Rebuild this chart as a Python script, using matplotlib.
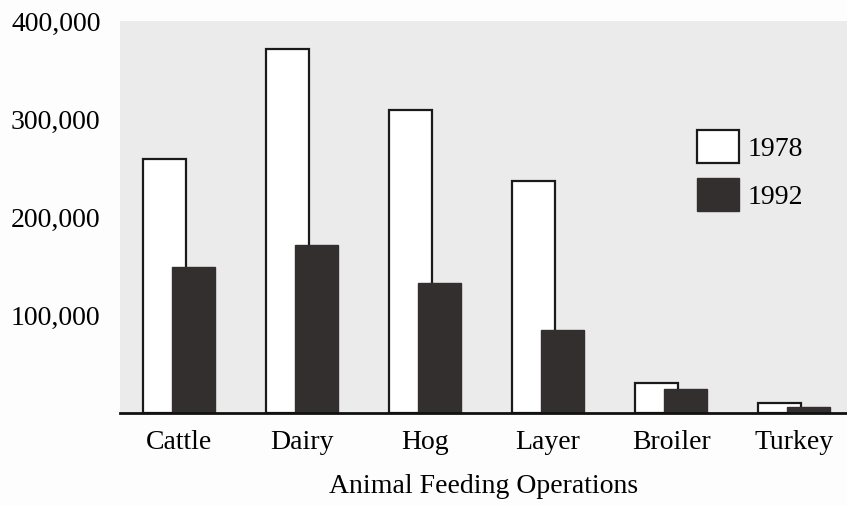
import matplotlib.pyplot as plt
import numpy as np

# feeding operations by type, counts
animals = ['Cattle', 'Dairy', 'Hog', 'Layer', 'Broiler', 'Turkey']
ops_1978 = [259000, 371000, 309000, 237000, 31000, 10000]
ops_1992 = [149000, 171000, 133000, 85000, 24000, 6000]
yticks = [100000, 200000, 300000, 400000]

plt.rcParams['font.family'] = ['Liberation Serif', 'DejaVu Serif']

fig = plt.figure(figsize=(8.47, 5.05), dpi=100)
ax = fig.add_axes([120 / 847, 92 / 505, 727 / 847, 392 / 505])
ax.set_facecolor('#ebebeb')

x = np.arange(len(animals))
w = 0.35
ax.bar(x - 0.118, ops_1978, w, color='white', edgecolor='#1a1a1a', linewidth=1.6,
       label='1978', zorder=2)
ax.bar(x + 0.118, ops_1992, w, color='#332f2f', edgecolor='#332f2f', linewidth=1,
       label='1992', zorder=3)

ax.set_xlim(-0.48, 5.43)
ax.set_ylim(0, 400000)
ax.set_yticks(yticks)
ax.set_yticklabels(['{:,}'.format(v) for v in yticks])
ax.set_xticks(x)
ax.set_xticklabels(animals)
ax.tick_params(axis='both', length=0, labelsize=20)
ax.tick_params(axis='y', pad=14)
ax.tick_params(axis='x', pad=12)
ax.set_xlabel('Animal Feeding Operations', fontsize=20, labelpad=14)

for s in ['top', 'right', 'left']:
    ax.spines[s].set_visible(False)
ax.spines['bottom'].set_linewidth(2)
ax.spines['bottom'].set_color('#111111')
ax.spines['bottom'].set_zorder(4)

ax.legend(loc='upper left', bbox_to_anchor=(697 / 847, 375 / 505),
          bbox_transform=fig.transFigure, frameon=False, fontsize=20,
          borderpad=0, borderaxespad=0, handlelength=1.5, handleheight=1.45,
          labelspacing=0.55, handletextpad=0.32)

fig.savefig('out.png', dpi=100, facecolor='#fdfdfd')
